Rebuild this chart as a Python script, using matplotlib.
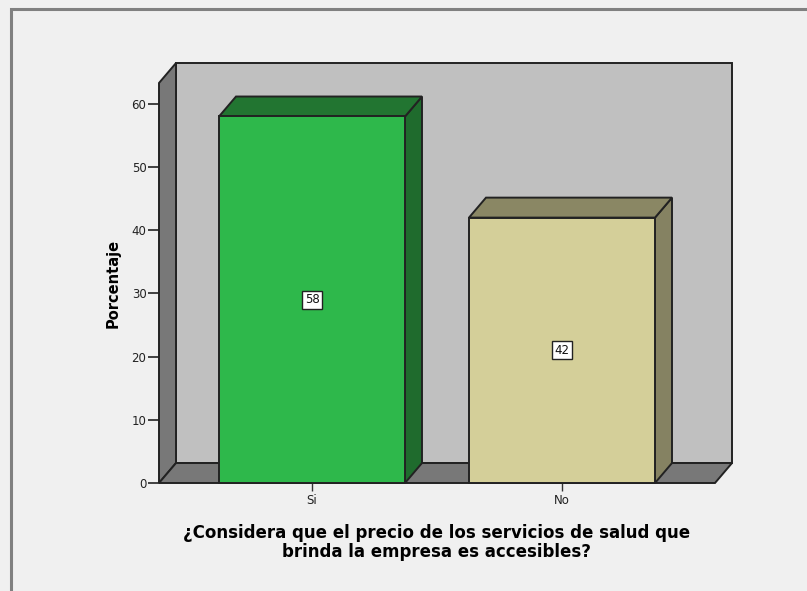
import matplotlib
matplotlib.use("Agg")
import matplotlib.pyplot as plt
from matplotlib.patches import Polygon, Rectangle

# porcentaje por respuesta
categorias = ["Si", "No"]
porcentajes = [58, 42]
etiquetas = ["58", "42"]

colores_frente = ["#2eb84b", "#d4cf99"]
colores_lado = ["#1f6b2d", "#858262"]
colores_tapa = ["#227531", "#8a8764"]

W, H = 807, 591
plt.rcParams['font.family'] = ['DejaVu Sans']

fig = plt.figure(figsize=(W / 100, H / 100), dpi=100)
fig.patch.set_facecolor("#f0f0f0")

# marco exterior
fig.patches.append(Rectangle((11 / W, -0.1), 2, (H - 9) / H + 0.1, transform=fig.transFigure,
                             fill=False, edgecolor="#808080", linewidth=2.2, zorder=0))

# plano frontal del grafico
x0, x1 = -0.612, 1.612
ymax = 63.3
ax = fig.add_axes([159 / W, (H - 483) / H, (715 - 159) / W, (483 - 83) / H])
ax.set_xlim(x0, x1)
ax.set_ylim(0, ymax)
ax.patch.set_visible(False)
for s in ax.spines.values():
    s.set_visible(False)

dx, dy = 0.068, 3.16   # profundidad 3D
borde = "#222222"
lw = 1.4

def poly(pts, color, z):
    ax.add_patch(Polygon(pts, closed=True, facecolor=color, edgecolor=borde,
                         linewidth=lw, clip_on=False, zorder=z, joinstyle="miter"))

# pared del fondo, pared lateral y piso
poly([(x0 + dx, dy), (x1 + dx, dy), (x1 + dx, ymax + dy), (x0 + dx, ymax + dy)], "#c0c0c0", 1)
poly([(x0, 0), (x0 + dx, dy), (x0 + dx, ymax + dy), (x0, ymax)], "#787878", 2)
poly([(x0, 0), (x1, 0), (x1 + dx, dy), (x0 + dx, dy)], "#787878", 2)

# barras
ancho = 0.744
xs = list(range(len(categorias)))
barras = ax.bar(xs, porcentajes, width=ancho, color=colores_frente, edgecolor=borde,
                linewidth=lw, zorder=5, clip_on=False)
for i, b in enumerate(barras):
    l = b.get_x()
    r = l + b.get_width()
    h = b.get_height()
    poly([(r, 0), (r + dx, dy), (r + dx, h + dy), (r, h)], colores_lado[i], 4)
    poly([(l, h), (r, h), (r + dx, h + dy), (l + dx, h + dy)], colores_tapa[i], 4)
    ax.text(b.get_x() + b.get_width() / 2, h / 2, etiquetas[i], ha="center", va="center",
            fontsize=8.5, color="#111111", zorder=6,
            bbox=dict(boxstyle="square,pad=0.22", facecolor="white", edgecolor="#222222", linewidth=1.0))

ax.set_xticks(xs)
ax.set_xticklabels(categorias)
ax.set_yticks(range(0, 61, 10))
ax.tick_params(axis="y", length=8, width=1.3, color="#333333", labelsize=8.5, labelcolor="#222222", pad=1)
ax.tick_params(axis="x", length=6, width=1.0, color="#333333", labelsize=8.5, labelcolor="#222222", pad=2)

ax.set_ylabel("Porcentaje", fontsize=10.5, fontweight="bold", labelpad=8)
ax.set_xlabel("¿Considera que el precio de los servicios de salud que\nbrinda la empresa es accesibles?",
              fontsize=12, fontweight="bold", labelpad=12, linespacing=1.08)

fig.savefig("out.png", dpi=100, facecolor=fig.get_facecolor())
